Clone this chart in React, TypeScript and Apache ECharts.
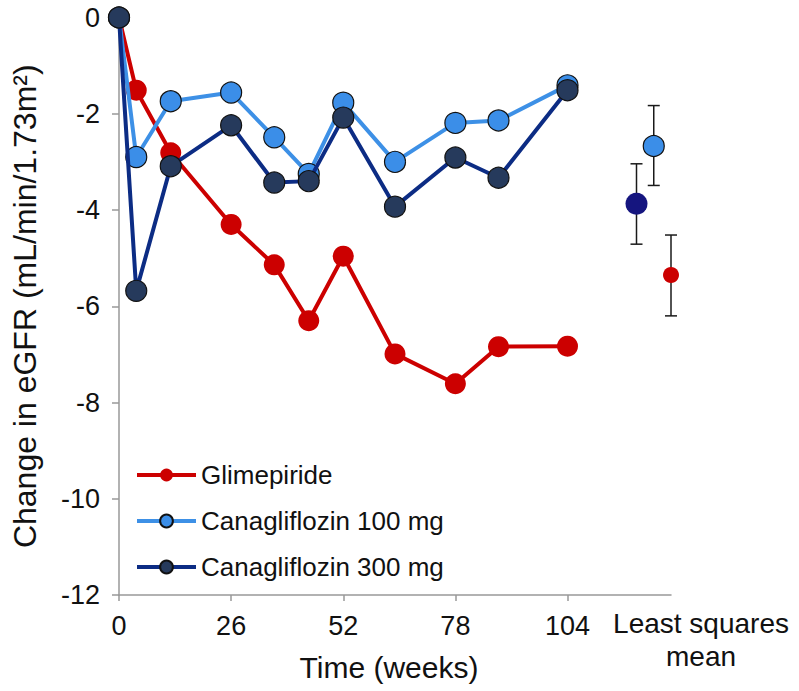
import React, { useEffect, useRef } from "react";
import * as echarts from "echarts";

const weeks = [0, 4, 12, 26, 36, 44, 52, 64, 78, 88, 104];
const glimepiride = [0, -1.51, -2.81, -4.3, -5.14, -6.3, -4.96, -6.99, -7.61, -6.84, -6.83];
const cana100 = [0, -2.9, -1.74, -1.56, -2.49, -3.25, -1.77, -3.0, -2.19, -2.14, -1.41];
const cana300 = [0, -5.68, -3.09, -2.24, -3.43, -3.4, -2.08, -3.93, -2.91, -3.33, -1.51];
const xTicks = [0, 26, 52, 78, 104];

// least squares mean: [x position, mean, lower, upper]
const lsm300 = [120, -3.87, -4.71, -3.04];
const lsm100 = [124, -2.67, -3.49, -1.83];
const lsmGlim = [128, -5.35, -6.2, -4.52];

const FONT = "'Liberation Sans', Arial, Helvetica, sans-serif";
const RED = "#cc0000";
const LIGHT = "#3b8ee8";
const LIGHT_LINE = "#3d90e6";
const DARK_LINE = "#0c2c84";
const DARK_FILL = "#263a5c";
const LSM_DARK = "#15157f";

function pairs(ys: number[]) {
  return weeks.map((w, i) => [w, ys[i]]);
}

export default function App() {
  const ref = useRef<HTMLDivElement>(null);
  useEffect(() => {
    if (!ref.current) return;
    const chart = echarts.init(ref.current, undefined, { renderer: "svg" });
    const errData = [lsm300, lsm100, lsmGlim].map((d) => [d[0], d[2], d[3]]);
    chart.setOption({
      animation: false,
      textStyle: { fontFamily: FONT },
      grid: { left: 119, top: 17.5, right: 128, bottom: 96, containLabel: false },
      legend: {
        orient: "vertical",
        left: 135,
        top: 462,
        padding: 0,
        itemWidth: 59,
        itemHeight: 16,
        itemGap: 20,
        textStyle: { fontSize: 26, color: "#111", fontFamily: FONT, lineHeight: 26 },
        lineStyle: { width: 4 },
        data: ["Glimepiride", "Canagliflozin 100 mg", "Canagliflozin 300 mg"],
      },
      xAxis: {
        type: "value",
        min: 0,
        max: 128,
        name: "Time (weeks)",
        nameLocation: "middle",
        nameGap: 57,
        nameTextStyle: { fontSize: 30, color: "#111", fontFamily: FONT, padding: [0, 12, 0, 0] },
        axisLine: { show: true, onZero: false, lineStyle: { color: "#999", width: 1.5 } },
        axisTick: { show: true, length: 6, customValues: xTicks, lineStyle: { color: "#999", width: 1.5 } },
        axisLabel: { customValues: xTicks, fontSize: 27, color: "#111", margin: 17, fontFamily: FONT },
        splitLine: { show: false },
      },
      yAxis: {
        type: "value",
        min: -12,
        max: 0,
        interval: 2,
        name: "Change in eGFR (mL/min/1.73m²)",
        nameLocation: "middle",
        nameGap: 78,
        nameTextStyle: { fontSize: 32, color: "#111", fontFamily: FONT },
        axisLine: { show: true, onZero: false, lineStyle: { color: "#999", width: 1.5 } },
        axisTick: { show: true, length: 7, lineStyle: { color: "#999", width: 1.5 } },
        axisLabel: { fontSize: 27, color: "#111", margin: 19, fontFamily: FONT },
        splitLine: { show: false },
      },
      graphic: [
        {
          type: "text",
          x: 701,
          y: 607,
          style: {
            text: "Least squares\nmean",
            fontSize: 28,
            lineHeight: 33,
            fontFamily: FONT,
            fill: "#111",
            align: "center",
            verticalAlign: "top",
          },
        },
      ],
      series: [
        {
          name: "Glimepiride",
          type: "line",
          data: pairs(glimepiride),
          clip: false,
          symbol: "circle",
          symbolSize: 21,
          lineStyle: { color: RED, width: 4 },
          itemStyle: { color: RED, borderWidth: 0 },
          z: 2,
        },
        {
          name: "Canagliflozin 100 mg",
          type: "line",
          data: pairs(cana100),
          clip: false,
          symbol: "circle",
          symbolSize: 21,
          lineStyle: { color: LIGHT_LINE, width: 4 },
          itemStyle: { color: LIGHT, borderColor: "#111", borderWidth: 1.2 },
          z: 3,
        },
        {
          name: "Canagliflozin 300 mg",
          type: "line",
          data: pairs(cana300),
          clip: false,
          symbol: "circle",
          symbolSize: 21,
          lineStyle: { color: DARK_LINE, width: 4 },
          itemStyle: { color: DARK_FILL, borderColor: "#111", borderWidth: 1.2 },
          z: 4,
        },
        {
          type: "custom",
          clip: false,
          z: 5,
          data: errData,
          renderItem: (params: any, api: any) => {
            const x = api.value(0);
            const lo = api.coord([x, api.value(1)]);
            const hi = api.coord([x, api.value(2)]);
            const half = 6;
            const style = { stroke: "#1a1a1a", lineWidth: 1.5 };
            return {
              type: "group",
              children: [
                { type: "line", shape: { x1: lo[0], y1: lo[1], x2: hi[0], y2: hi[1] }, style },
                { type: "line", shape: { x1: lo[0] - half, y1: lo[1], x2: lo[0] + half, y2: lo[1] }, style },
                { type: "line", shape: { x1: hi[0] - half, y1: hi[1], x2: hi[0] + half, y2: hi[1] }, style },
              ],
            };
          },
        },
        {
          type: "scatter",
          clip: false,
          z: 6,
          symbolSize: 22,
          data: [[lsm300[0], lsm300[1]]],
          itemStyle: { color: LSM_DARK, borderWidth: 0, opacity: 1 },
        },
        {
          type: "scatter",
          clip: false,
          z: 6,
          symbolSize: 21,
          data: [[lsm100[0], lsm100[1]]],
          itemStyle: { color: LIGHT, borderColor: "#111", borderWidth: 1.2, opacity: 1 },
        },
        {
          type: "scatter",
          clip: false,
          z: 6,
          symbolSize: 16,
          data: [[lsmGlim[0], lsmGlim[1]]],
          itemStyle: { color: RED, borderWidth: 0, opacity: 1 },
        },
      ],
    });
    return () => chart.dispose();
  }, []);
  return (
    <div
      ref={ref}
      style={{ position: "fixed", left: 0, top: 0, width: 799, height: 691, background: "#fff" }}
    />
  );
}
